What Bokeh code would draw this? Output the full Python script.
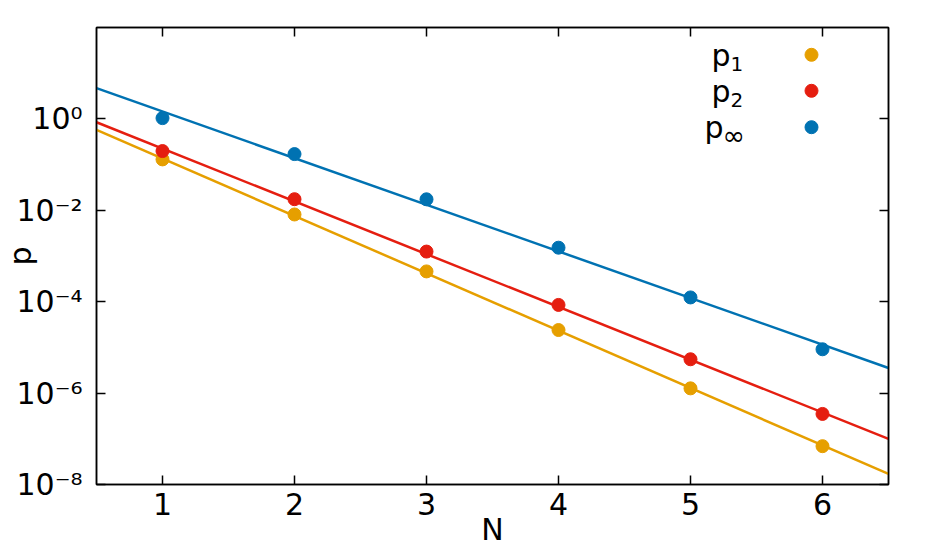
from bokeh.plotting import figure
from bokeh.models import (LogAxis, LinearAxis, FixedTicker, Range1d, LinearScale)
from bokeh.core.properties import value
from bokeh.embed import file_html
from bokeh.resources import INLINE

# ---- data ----
N = [1, 2, 3, 4, 5, 6]
p1 = [0.130, 8.1e-3, 4.6e-4, 2.4e-5, 1.27e-6, 6.9e-8]
p2 = [0.198, 0.0175, 1.25e-3, 8.5e-5, 5.5e-6, 3.5e-7]
pinf = [1.04, 0.170, 0.0174, 1.52e-3, 1.24e-4, 9.1e-6]

fit_N = [0.5, 6.5]
fit_p1 = [0.573, 1.7e-8]
fit_p2 = [0.845, 1.0e-7]
fit_pinf = [4.7, 3.55e-6]

x_ticks = [1, 2, 3, 4, 5, 6]
y_ticks = [1e-8, 1e-6, 1e-4, 1e-2, 1e0]
y_tick_labels = ["10⁻⁸", "10⁻⁶", "10⁻⁴", "10⁻²", "10⁰"]
x_title = "N"
y_title = "p"

legend_main = ["p", "p", "p"]
legend_subs = ["1", "2", "∞"]

ORANGE = "#e69f00"
RED = "#e51e10"
BLUE = "#0072b2"
colors = [ORANGE, RED, BLUE]
FONT = "DejaVu Sans"

FW, FH = 792, 457

p = figure(width=926, height=556,
           y_axis_type="log", x_range=(0.5, 6.5), y_range=(1e-8, 1e2),
           output_backend="svg", toolbar_location=None,
           min_border_left=96, min_border_right=38,
           min_border_top=27, min_border_bottom=72)
p.grid.visible = False
p.outline_line_color = "black"
p.outline_line_width = 1.5
p.background_fill_color = "white"
p.border_fill_color = "white"

# fit lines
for fy, c in zip([fit_p1, fit_p2, fit_pinf], colors):
    p.line(fit_N, fy, line_color=c, line_width=2.5)
# points
for yy, c in zip([p1, p2, pinf], colors):
    p.scatter(N, yy, size=13, fill_color=c, line_color=c)

# axes styling
def style_axis(ax, show_labels=True):
    ax.axis_line_color = "black"
    ax.axis_line_width = 1.5
    ax.major_tick_in = 9
    ax.major_tick_out = 0
    ax.major_tick_line_width = 1.5
    ax.minor_tick_line_color = None
    ax.major_label_text_font = FONT
    ax.major_label_text_font_size = "30px"
    ax.major_label_text_color = "black"
    ax.axis_label_text_font = FONT
    ax.axis_label_text_font_size = "30px"
    ax.axis_label_text_font_style = "normal"
    ax.axis_label_text_color = "black"
    if not show_labels:
        ax.major_label_text_font_size = "0px"
        ax.major_label_text_color = None
        ax.major_label_standoff = 0

xa = p.xaxis[0]
style_axis(xa)
xa.ticker = FixedTicker(ticks=x_ticks)
xa.axis_label = x_title
xa.major_label_standoff = 8
xa.axis_label_standoff = -6

ya = p.yaxis[0]
style_axis(ya)
ya.ticker = FixedTicker(ticks=y_ticks)
ya.major_label_overrides = {t: l for t, l in zip(y_ticks, y_tick_labels)}
ya.axis_label = y_title
ya.major_label_standoff = 14
ya.axis_label_standoff = -25

top = LinearAxis(ticker=FixedTicker(ticks=x_ticks))
style_axis(top, show_labels=False)
p.add_layout(top, "above")
right = LogAxis(ticker=FixedTicker(ticks=y_ticks))
style_axis(right, show_labels=False)
p.add_layout(right, "right")

# legend in frame pixel coordinates
p.extra_x_ranges = {"px": Range1d(0, FW)}
p.extra_y_ranges = {"py": Range1d(0, FH)}
p.extra_x_scales = {"px": LinearScale()}
p.extra_y_scales = {"py": LinearScale()}

mk_x = [715, 715, 715]
mk_y = [429.7, 393.7, 357.3]
main_x = [615, 615, 608]
main_y = [y - 0.5 for y in mk_y]
sub_x = [634, 634, 626]
sub_y = [y - 9.5 for y in mk_y]

p.scatter(mk_x, mk_y, size=13, fill_color=colors, line_color=colors,
          x_range_name="px", y_range_name="py")
p.text(main_x, main_y, text=legend_main, x_range_name="px", y_range_name="py",
       text_font=value(FONT), text_font_size="30px", text_color="black",
       text_baseline="alphabetic", text_align="left")
p.text(sub_x[:2], sub_y[:2], text=legend_subs[:2], x_range_name="px", y_range_name="py",
       text_font=value(FONT), text_font_size="20px", text_color="black",
       text_baseline="alphabetic", text_align="left")
p.text(sub_x[2:], [sub_y[2] + 1], text=legend_subs[2:], x_range_name="px", y_range_name="py",
       text_font=value(FONT), text_font_size="27px", text_color="black",
       text_baseline="alphabetic", text_align="left")

open("out.html", "w").write(file_html(p, INLINE))
